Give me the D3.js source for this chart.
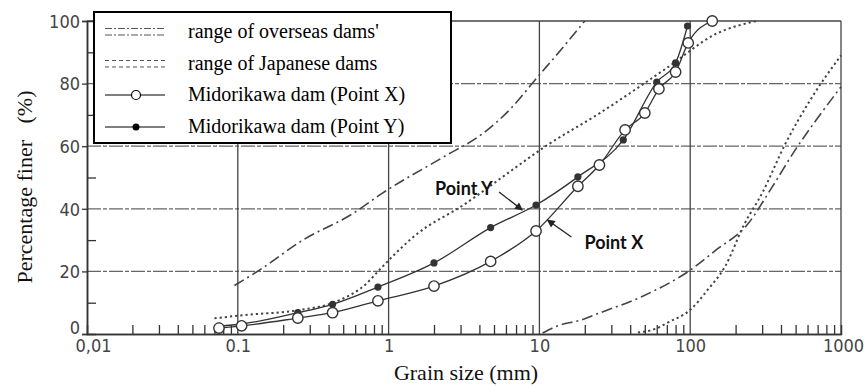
<!DOCTYPE html>
<html>
<head>
<meta charset="utf-8">
<script src="https://cdn.jsdelivr.net/npm/d3@7/dist/d3.min.js"></script>
<style>
  html, body { margin: 0; padding: 0; background: #fff; }
  svg { display: block; }
</style>
</head>
<body>
<svg id="chart" width="865" height="386"></svg>
<script>
// Grain-size distribution: Midorikawa dam core material vs. ranges of other dams

// axis ticks
const xTickValues = [0.01, 0.1, 1, 10, 100, 1000];
const xTickLabels = ["0,01", "0.1", "1", "10", "100", "1000"];
const yTickValues = [0, 20, 40, 60, 80, 100];
const yMinorValues = [10, 30, 50, 70, 90];

// Midorikawa dam, Point X (open circles)
const pointXSize = [0.075, 0.106, 0.25, 0.425, 0.85, 2, 4.75, 9.5, 18, 25, 37, 50, 62, 80, 97, 140];
const pointXPct  = [1.9, 2.6, 5.1, 6.8, 10.6, 15.3, 23.2, 32.9, 47.2, 54, 65.2, 70.6, 78.3, 83.7, 93, 100];

// Midorikawa dam, Point Y (filled dots)
const pointYSize = [0.075, 0.106, 0.25, 0.425, 0.85, 2, 4.75, 9.5, 18, 36, 60, 80, 96];
const pointYPct  = [2.5, 3.2, 6.8, 9.5, 15, 22.7, 34, 41.2, 50.2, 62, 80.5, 86.6, 98.4];

// range of overseas dams (dash-dot), fine and coarse bounds
const overseasFineSize = [0.095, 0.14, 0.27, 0.58, 0.91, 2.3, 4.2, 6.6, 9.3, 14, 20];
const overseasFinePct  = [15.5, 20.5, 30, 38.5, 45, 56.5, 64, 72.5, 81, 91, 100];
const overseasCoarseSize = [10.5, 13, 19, 25, 48, 100, 150, 235, 350, 500, 700, 1000];
const overseasCoarsePct  = [0.3, 2.5, 4.5, 6.7, 12, 20.4, 27, 34.5, 47, 59, 69, 79];

// range of Japanese dams (dotted), fine and coarse bounds
const japanFineSize = [0.07, 0.108, 0.26, 0.43, 0.72, 0.87, 1.5, 3.2, 6.6, 11, 25, 70, 150, 275];
const japanFinePct  = [5, 6, 7.7, 10, 16.3, 20.5, 31.5, 41.5, 52.4, 60, 70.5, 85, 96, 100];
const japanCoarseSize = [45, 60, 72, 100, 130, 170, 228, 300, 430, 630, 1000];
const japanCoarsePct  = [0.5, 1.8, 3.8, 7.7, 14, 21.5, 35, 45, 61, 75, 89];

// callout labels with arrow (label anchor, arrow tail, arrow tip) in data units
const calloutText = ["Point Y", "Point X"];
const calloutLabel = [[4.9, 44.4], [19.9, 27.3]];
const calloutTail  = [[5.4, 45.4], [16.3, 31]];
const calloutTip   = [[7.7, 39.6], [11.3, 36.4]];
const calloutAnchor = ["end", "start"];

const legendLabels = ["range of overseas dams'", "range of Japanese dams",
                      "Midorikawa dam (Point X)", "Midorikawa dam (Point Y)"];

const svg = d3.select("#chart");
const ink = "#333";

const plot = { left: 87, right: 841, top: 21, bottom: 334 };
const x = d3.scaleLog().domain([0.01, 1000]).range([plot.left, plot.right]);
const y = d3.scaleLinear().domain([0, 100]).range([plot.bottom, plot.top]);

const numFont = "'DejaVu Sans Condensed', 'Liberation Sans Narrow', sans-serif";
const serif = "'Liberation Serif', 'Times New Roman', serif";

// horizontal grid
const hg = svg.append("g");
hg.selectAll("line.h").data(yTickValues.filter(v => v > 0 && v < 100)).join("line")
  .attr("x1", plot.left).attr("x2", plot.right)
  .attr("y1", d => y(d)).attr("y2", d => y(d))
  .attr("stroke", "#666").attr("stroke-width", 1.2)
  .attr("stroke-dasharray", "14 2 4 2");
hg.append("line")
  .attr("x1", plot.left).attr("x2", plot.right)
  .attr("y1", y(100)).attr("y2", y(100))
  .attr("stroke", "#444").attr("stroke-width", 1.3);

// vertical grid at each decade
hg.selectAll("line.v").data(xTickValues.slice(1)).join("line")
  .attr("x1", d => x(d)).attr("x2", d => x(d))
  .attr("y1", plot.top).attr("y2", plot.bottom)
  .attr("stroke", "#444").attr("stroke-width", 1.3);

// axes
const xAxis = svg.append("g").attr("transform", `translate(0,${plot.bottom})`)
  .call(d3.axisBottom(x).tickValues(xTickValues).tickSize(0)
        .tickFormat((d, i) => xTickLabels[i]));
const minorX = [];
for (let e = -2; e < 3; e++) for (let m = 2; m <= 9; m++) minorX.push(m * Math.pow(10, e));
const xMinor = svg.append("g").attr("transform", `translate(0,${plot.bottom})`)
  .call(d3.axisBottom(x).tickValues(minorX).tickSize(-9).tickFormat(""));

const yAxis = svg.append("g").attr("transform", `translate(${plot.left},0)`)
  .call(d3.axisLeft(y).tickValues(yTickValues).tickSize(5).tickPadding(2));
const yMinor = svg.append("g").attr("transform", `translate(${plot.left},0)`)
  .call(d3.axisLeft(y).tickValues(yMinorValues).tickSize(-9).tickFormat(""));

[xAxis, xMinor, yAxis, yMinor].forEach(g => {
  g.select(".domain").attr("stroke", ink).attr("stroke-width", 1.5);
  g.selectAll(".tick line").attr("stroke", ink).attr("stroke-width", 1.3);
  g.selectAll("text").attr("fill", "#444").attr("font-family", numFont)
    .attr("font-size", 18);
});
xAxis.selectAll(".tick text").attr("dy", "1.0em").attr("y", 0)
  .attr("dx", (d, i) => i === 0 ? 6 : (i === xTickValues.length - 1 ? 2 : 0));
yAxis.selectAll(".tick text").attr("dy", (d) => d === 0 ? "-0.05em" : "0.35em");

// curves
const curve = (sizes, pcts) => d3.line()
  .x(i => x(sizes[i])).y(i => y(pcts[i]))
  .curve(d3.curveMonotoneX)(d3.range(sizes.length));

const dashDot = "11 4 2 4";
const dotted = "2.2 3";
[[overseasFineSize, overseasFinePct], [overseasCoarseSize, overseasCoarsePct]].forEach(([s, p]) => {
  svg.append("path").attr("d", curve(s, p)).attr("fill", "none")
    .attr("stroke", "#444").attr("stroke-width", 1.6).attr("stroke-dasharray", dashDot);
});
[[japanFineSize, japanFinePct], [japanCoarseSize, japanCoarsePct]].forEach(([s, p]) => {
  svg.append("path").attr("d", curve(s, p)).attr("fill", "none")
    .attr("stroke", "#444").attr("stroke-width", 2).attr("stroke-dasharray", dotted);
});

// Midorikawa gradation lines and markers
svg.append("path").attr("d", curve(pointYSize, pointYPct)).attr("fill", "none")
  .attr("stroke", ink).attr("stroke-width", 1.3);
svg.append("path").attr("d", curve(pointXSize, pointXPct)).attr("fill", "none")
  .attr("stroke", ink).attr("stroke-width", 1.3);

svg.append("g").selectAll("circle").data(d3.range(pointYSize.length)).join("circle")
  .attr("cx", i => x(pointYSize[i])).attr("cy", i => y(pointYPct[i]))
  .attr("r", 3.6).attr("fill", ink);
svg.append("g").selectAll("circle").data(d3.range(pointXSize.length)).join("circle")
  .attr("cx", i => x(pointXSize[i])).attr("cy", i => y(pointXPct[i]))
  .attr("r", 5.2).attr("fill", "#fff").attr("stroke", ink).attr("stroke-width", 1.4);

// callouts
const defs = svg.append("defs");
defs.append("marker").attr("id", "arrow").attr("viewBox", "0 0 10 10")
  .attr("refX", 9).attr("refY", 5).attr("markerWidth", 9).attr("markerHeight", 8)
  .attr("markerUnits", "userSpaceOnUse").attr("orient", "auto")
  .append("path").attr("d", "M0,0 L10,5 L0,10 Z").attr("fill", "#222");

calloutText.forEach((t, i) => {
  svg.append("line")
    .attr("x1", x(calloutTail[i][0])).attr("y1", y(calloutTail[i][1]))
    .attr("x2", x(calloutTip[i][0])).attr("y2", y(calloutTip[i][1]))
    .attr("stroke", "#222").attr("stroke-width", 1.3).attr("marker-end", "url(#arrow)");
  svg.append("text").attr("x", x(calloutLabel[i][0])).attr("y", y(calloutLabel[i][1]))
    .attr("text-anchor", calloutAnchor[i])
    .attr("font-family", "Lato, 'Open Sans', sans-serif").attr("font-weight", "bold")
    .attr("font-size", 18).attr("fill", "#111").text(t);
});

// legend
const lg = svg.append("g");
lg.append("rect").attr("x", 94).attr("y", 12).attr("width", 357).attr("height", 131)
  .attr("fill", "#fff").attr("stroke", "#000").attr("stroke-width", 2);
const rowY = [32, 64, 95, 127];
const sx1 = 105, sx2 = 165;
// overseas: paired dash-dot strokes
[-3.5, 3].forEach(o => lg.append("line").attr("x1", sx1).attr("x2", sx2)
  .attr("y1", rowY[0] + o).attr("y2", rowY[0] + o)
  .attr("stroke", "#555").attr("stroke-width", 1.1).attr("stroke-dasharray", "7 2 2 2"));
// japanese: paired dashed strokes
[-3.5, 3].forEach(o => lg.append("line").attr("x1", sx1).attr("x2", sx2)
  .attr("y1", rowY[1] + o).attr("y2", rowY[1] + o)
  .attr("stroke", "#555").attr("stroke-width", 1.1).attr("stroke-dasharray", "4 3"));
[2, 3].forEach(r => lg.append("line").attr("x1", sx1).attr("x2", sx2)
  .attr("y1", rowY[r]).attr("y2", rowY[r]).attr("stroke", "#000").attr("stroke-width", 1.2));
lg.append("circle").attr("cx", 136).attr("cy", rowY[2]).attr("r", 4.5)
  .attr("fill", "#fff").attr("stroke", "#000").attr("stroke-width", 1.2);
lg.append("circle").attr("cx", 136).attr("cy", rowY[3]).attr("r", 3.5).attr("fill", "#000");
lg.selectAll("text.l").data(legendLabels).join("text")
  .attr("x", 188).attr("y", (d, i) => rowY[i] + 6)
  .attr("font-family", serif).attr("font-size", 20).attr("fill", "#000").text(d => d);

// axis titles
svg.append("text").attr("x", 466).attr("y", 380).attr("text-anchor", "middle")
  .attr("font-family", serif).attr("font-size", 22).attr("fill", "#111")
  .text("Grain size (mm)");
svg.append("text").attr("transform", "translate(32,187) rotate(-90)")
  .attr("text-anchor", "middle").attr("font-family", serif).attr("font-size", 22)
  .attr("fill", "#111").attr("xml:space", "preserve").style("white-space", "pre")
  .text("Percentage finer   (%)");
</script>
</body>
</html>
